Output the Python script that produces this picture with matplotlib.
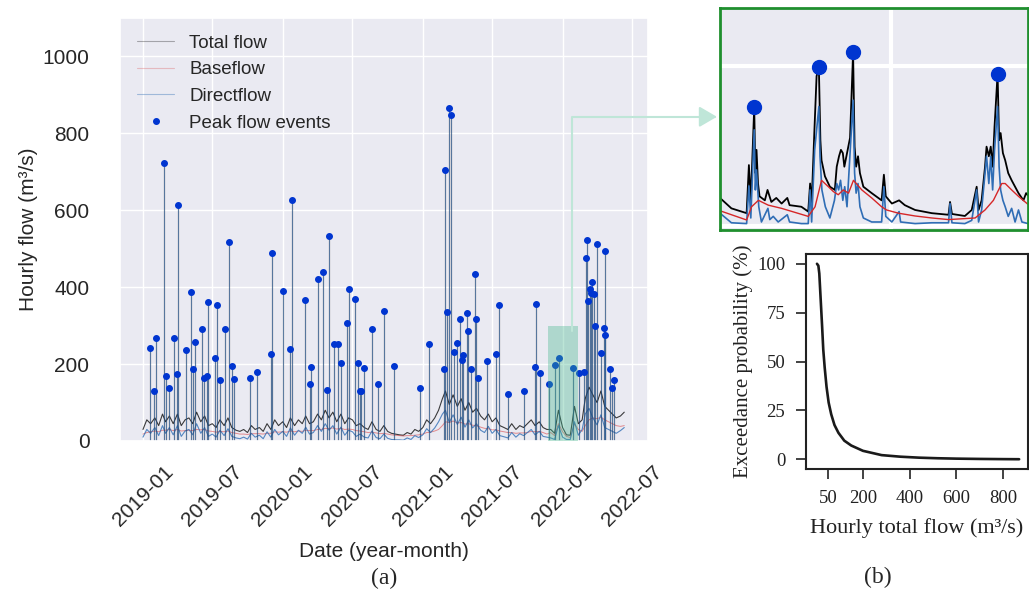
import pandas as pd
import matplotlib
matplotlib.use("Agg")
from matplotlib import pyplot as plt
import matplotlib.dates as mdates
from matplotlib.patches import Rectangle
from matplotlib.lines import Line2D
import seaborn as sns

# ---- panel (a): peak flow events ----
peak_dates = ["2019-01-20", "2019-01-30", "2019-02-05", "2019-02-24", "2019-03-02",
              "2019-03-10", "2019-03-22", "2019-03-30", "2019-04-03", "2019-04-23",
              "2019-05-06", "2019-05-12", "2019-05-16", "2019-06-05", "2019-06-09",
              "2019-06-18", "2019-06-20", "2019-07-08", "2019-07-14", "2019-07-21",
              "2019-08-04", "2019-08-14", "2019-08-22", "2019-08-28", "2019-10-07",
              "2019-10-26", "2019-12-01", "2019-12-05", "2020-01-02", "2020-01-19",
              "2020-01-26", "2020-02-27", "2020-03-11", "2020-03-14", "2020-04-02",
              "2020-04-14", "2020-04-26", "2020-05-02", "2020-05-15", "2020-05-24",
              "2020-06-02", "2020-06-17", "2020-06-22", "2020-07-07", "2020-07-15",
              "2020-07-20", "2020-07-24", "2020-07-31", "2020-08-21", "2020-09-06",
              "2020-09-22", "2020-10-17", "2020-12-25", "2021-01-16", "2021-02-26",
              "2021-03-01", "2021-03-05", "2021-03-11", "2021-03-16", "2021-03-23",
              "2021-03-31", "2021-04-08", "2021-04-13", "2021-04-16", "2021-04-27",
              "2021-04-30", "2021-05-08", "2021-05-16", "2021-05-19", "2021-05-25",
              "2021-06-18", "2021-07-12", "2021-07-19", "2021-08-11", "2021-09-23",
              "2021-10-21", "2021-10-23", "2021-11-03", "2021-11-26", "2021-12-13",
              "2021-12-22", "2022-01-29", "2022-02-13", "2022-02-27", "2022-03-03",
              "2022-03-05", "2022-03-08", "2022-03-13", "2022-03-17", "2022-03-19",
              "2022-03-24", "2022-03-26", "2022-04-01", "2022-04-10", "2022-04-19",
              "2022-04-21", "2022-04-23", "2022-05-06", "2022-05-11", "2022-05-16"]
peak_flow = [242, 131, 267, 723, 168, 137, 268, 174, 614, 236,
             388, 188, 257, 290, 164, 170, 361, 216, 353, 158,
             292, 518, 194, 161, 165, 179, 227, 490, 391, 238,
             628, 366, 149, 193, 422, 440, 132, 532, 252, 252,
             202, 307, 395, 370, 202, 131, 131, 190, 292, 148,
             337, 195, 138, 251, 187, 706, 336, 867, 848, 231,
             254, 318, 211, 223, 333, 287, 186, 434, 318, 164,
             207, 226, 354, 123, 130, 192, 355, 177, 148, 198,
             217, 190, 178, 179, 476, 523, 364, 396, 386, 414,
             382, 300, 513, 229, 294, 494, 276, 186, 139, 158]

# background flow, read on the 1st, 11th and 21st of each month
bg_total = [30, 55, 45, 60, 40, 70, 50, 65, 45, 70, 40, 55, 60, 45, 75, 50, 65, 40,
            45, 35, 55, 40, 60, 35, 28, 25, 30, 22, 40, 30, 35, 25, 45, 30, 55, 40,
            50, 35, 60, 40, 55, 45, 65, 45, 50, 70, 55, 80, 60, 75, 50, 70, 45, 60,
            55, 40, 45, 35, 30, 50, 30, 25, 40, 25, 20, 18, 16, 15, 22, 18, 30, 25,
            35, 55, 45, 60, 80, 110, 130, 95, 120, 90, 110, 80, 100, 75, 85, 65, 55, 70,
            50, 60, 40, 35, 30, 45, 30, 40, 35, 45, 55, 40, 50, 35, 30, 30, 20, 80,
            35, 16, 15, 90, 45, 55, 110, 140, 120, 100, 130, 90, 80, 70, 60, 65, 75]
bg_base = [18, 22, 24, 26, 24, 28, 28, 30, 27, 30, 26, 27, 28, 27, 30, 29, 30, 26,
           25, 23, 25, 24, 26, 22, 20, 18, 18, 17, 19, 19, 19, 18, 20, 20, 24, 23,
           24, 23, 26, 24, 26, 25, 28, 27, 27, 30, 30, 33, 32, 34, 31, 33, 30, 31,
           30, 27, 26, 24, 22, 23, 21, 19, 20, 18, 16, 15, 14, 13, 14, 14, 15, 16,
           18, 22, 23, 26, 30, 40, 50, 48, 52, 47, 48, 44, 45, 41, 40, 36, 33, 32,
           29, 29, 26, 24, 22, 22, 20, 21, 21, 22, 25, 24, 25, 22, 18, 22, 14, 45,
           24, 12, 9, 45, 30, 25, 40, 55, 60, 58, 62, 55, 50, 45, 40, 38, 40]
bg_direct = [10, 30, 20, 35, 14, 40, 20, 35, 16, 40, 12, 26, 30, 16, 45, 20, 35, 12,
             18, 10, 28, 14, 32, 12, 8, 6, 10, 5, 20, 10, 15, 6, 24, 10, 30, 16,
             25, 12, 34, 15, 28, 20, 36, 18, 22, 40, 25, 45, 28, 40, 18, 36, 15, 28,
             24, 12, 18, 10, 8, 26, 9, 6, 18, 7, 4, 3, 3, 2, 8, 4, 14, 9,
             16, 32, 22, 34, 50, 70, 80, 48, 68, 43, 62, 36, 55, 34, 45, 28, 22, 38,
             20, 30, 14, 11, 8, 22, 10, 19, 14, 22, 30, 16, 25, 12, 10, 8, 4, 40,
             10, 4, 4, 50, 15, 30, 70, 85, 60, 42, 68, 35, 30, 25, 20, 27, 35]

# highlighted window (green box) and zoomed view
box_start, box_end, box_top = "2021-11-24", "2022-02-10", 300
zoom_start, zoom_end = "2021-11-17", "2022-02-06"
zoom_total_day = [0, 3, 7, 7.6, 8.1, 9, 9.3, 9.6, 10, 10.4,
                  11.8, 12.5, 13.5, 14.8, 16.2, 17.7, 18.3, 21.4, 23.2, 23.7,
                  24.1, 24.8, 25.4, 26, 26.4, 26.7, 27.6, 28.9, 30.2, 30.7,
                  31.3, 31.8, 32.3, 32.7, 34.2, 35, 35.4, 35.8, 36.3, 36.8,
                  37.7, 39.9, 42.5, 43.1, 43.6, 45.2, 47.1, 48.6, 51.3, 55.7,
                  60.1, 60.5, 61, 64.4, 66.2, 67.5, 68, 68.8, 69.7, 70.1,
                  70.7, 71.2, 71.7, 72.2, 73, 73.4, 73.8, 74.4, 75, 75.8,
                  76.7, 77.6, 78.5, 79.8, 80.5, 81]
zoom_total = [35, 22, 16, 76, 32, 148, 66, 95, 53, 37,
              32, 45, 30, 35, 28, 35, 26, 24, 18, 53,
              28, 116, 187, 198, 107, 82, 62, 49, 45, 74,
              87, 95, 91, 74, 110, 217, 99, 74, 87, 66,
              49, 41, 32, 64, 37, 28, 32, 26, 20, 16,
              14, 30, 15, 12.5, 20, 49, 20, 32, 74, 99,
              87, 99, 74, 124, 190, 107, 116, 91, 82, 66,
              57, 49, 41, 32, 41, 38]
zoom_base_day = [0, 7, 8.3, 10.1, 12.7, 16.2, 23.2, 25, 26.7, 28.5, 29.8, 31.1, 32.4,
                 33.8, 35.1, 37.3, 39.9, 42.5, 43.8, 46.9, 51.3, 55.7, 60.1, 67.1,
                 69.7, 71.9, 74.1, 75, 76.7, 78.5, 81]
zoom_base = [19, 7.5, 24, 32, 26, 22, 12, 24, 57, 49, 43, 39, 45,
             41, 57, 45, 35, 24, 20, 16, 12.5, 10, 8, 10,
             20, 32, 53, 53, 45, 37, 27]
zoom_direct_day = [0, 3, 7, 7.6, 8.1, 9, 9.3, 9.6, 10.2, 10.9,
                   12.6, 13.1, 14, 15.3, 17.7, 18.3, 21.4, 23.2, 23.7, 24.1,
                   24.9, 26, 26.3, 26.8, 27.7, 28.9, 30.1, 30.7, 31.2, 31.7,
                   32.3, 32.8, 33.4, 35, 35.4, 35.8, 36.3, 36.8, 37.7, 39.9,
                   42.5, 43.1, 43.6, 45.2, 47.1, 47.5, 51.3, 55.7, 60.1, 60.5,
                   61, 64.4, 66.2, 67.5, 68, 68.8, 69.7, 70.1, 70.7, 71.2,
                   71.7, 72.2, 73, 73.4, 73.8, 74.4, 75, 75.8, 76.7, 77.6,
                   78.5, 79.4, 81]
zoom_direct = [16, 4, 3, 50, 10, 120, 45, 70, 24, 5,
               22, 8, 12, 5, 14, 5, 3, 3, 45, 5,
               95, 149, 87, 45, 24, 10, 32, 53, 45, 57,
               32, 49, 24, 157, 66, 41, 53, 24, 10, 5,
               5, 49, 12, 5, 18, 5, 3, 4, 4, 28,
               4, 3, 7, 45, 5, 20, 66, 87, 53, 87,
               45, 95, 149, 74, 45, 32, 24, 12, 22, 5,
               20, 5, 3]

# ---- panel (b): flow duration curve ----
exc_flow = [3, 9, 13, 17, 21, 25, 30, 36, 44, 53, 64, 78, 95, 120, 150, 200,
            280, 360, 440, 520, 600, 700, 800, 869]
exc_prob = [100, 99, 95, 86, 77, 68, 56, 47, 37, 29, 23, 17.5, 13.5, 9.5, 7, 4.3,
            2.1, 1.3, 0.8, 0.5, 0.3, 0.15, 0.05, 0]

sns.set_theme(style="darkgrid")
plt.rcParams["font.family"] = ["Liberation Sans", "DejaVu Sans"]
SERIF = ["Liberation Serif", "DejaVu Serif"]

C_TOTAL, C_BASE, C_DIRECT, C_PEAK = "black", "#d62728", "#2f6db5", "#0035d0"
W, H = 1029, 596

fig = plt.figure(figsize=(W / 100, H / 100), dpi=100)

# ---- main time series ----
ax = fig.add_axes([120 / W, 155 / H, 528 / W, 423 / H])
months = pd.date_range("2019-01-01", "2022-06-01", freq="MS")
bg_dates = [m + pd.Timedelta(days=d) for m in months for d in (0, 10, 20)][:len(bg_total)]
pk = pd.to_datetime(peak_dates)

ax.plot(bg_dates, bg_total, color=C_TOTAL, lw=0.8, alpha=0.75)
ax.plot(bg_dates, bg_base, color=C_BASE, lw=0.7, alpha=0.5)
ax.plot(bg_dates, bg_direct, color=C_DIRECT, lw=0.8, alpha=0.8)
ax.vlines(pk, 0, peak_flow, colors=C_TOTAL, lw=0.9, alpha=0.45)
ax.vlines(pk, 0, peak_flow, colors=C_DIRECT, lw=0.6, alpha=0.6)
ax.plot(pk, peak_flow, "o", ms=4, color=C_PEAK, lw=0)

b0, b1 = mdates.date2num(pd.Timestamp(box_start)), mdates.date2num(pd.Timestamp(box_end))
ax.add_patch(Rectangle((b0, 0), b1 - b0, box_top, facecolor="#3fb58a", alpha=0.35,
                       edgecolor="none", zorder=3))

ax.set_xlim(pd.Timestamp("2018-11-02"), pd.Timestamp("2022-08-12"))
ax.set_ylim(0, 1100)
ax.set_yticks(range(0, 1001, 200))
ax.xaxis.set_major_locator(mdates.MonthLocator(bymonth=[1, 7]))
ax.xaxis.set_major_formatter(mdates.DateFormatter("%Y-%m"))
ax.tick_params(axis="y", labelsize=15, pad=16)
ax.tick_params(axis="x", labelsize=15, pad=9, labelrotation=45)
ax.set_ylabel("Hourly flow (m³/s)", fontsize=15, labelpad=3)
ax.set_xlabel("Date (year-month)", fontsize=15, labelpad=9)

handles = [Line2D([], [], color=C_TOTAL, lw=0.8, alpha=0.3),
           Line2D([], [], color=C_BASE, lw=0.8, alpha=0.25),
           Line2D([], [], color=C_DIRECT, lw=0.8, alpha=0.4),
           Line2D([], [], marker="o", ms=4, color=C_PEAK, lw=0)]
ax.legend(handles, ["Total flow", "Baseflow", "Directflow", "Peak flow events"],
          loc="upper left", frameon=False, fontsize=13.5)

# ---- zoomed view of the green box ----
axz = fig.add_axes([720 / W, 366 / H, 308 / W, 222 / H])
z0 = pd.Timestamp(zoom_start)
to_dates = lambda days: z0 + pd.to_timedelta(days, unit="D")
axz.plot(to_dates(zoom_total_day), zoom_total, color=C_TOTAL, lw=1.3)
axz.plot(to_dates(zoom_direct_day), zoom_direct, color=C_DIRECT, lw=1.2)
axz.plot(to_dates(zoom_base_day), zoom_base, color=C_BASE, lw=1.0)
in_zoom = [(d, v) for d, v in zip(pk, peak_flow) if z0 <= d <= pd.Timestamp(zoom_end)]
axz.plot([d for d, _ in in_zoom], [v for _, v in in_zoom], "o", ms=10,
         color=C_PEAK, lw=0)
axz.set_xlim(z0, pd.Timestamp(zoom_end))
axz.set_ylim(-5, 272)
axz.set_xticks([pd.Timestamp("2022-01-01")])
axz.set_yticks([0, 200])
axz.set_xticklabels([])
axz.set_yticklabels([])
axz.tick_params(length=0)
axz.grid(True, color="white", lw=3)
for s in axz.spines.values():
    s.set_visible(True)
    s.set_color("#1f8f2e")
    s.set_linewidth(2)

# connector from the box to the zoomed view
ax.annotate("", xy=(-0.01, 0.51), xycoords=axz,
            xytext=(pd.Timestamp("2022-01-25"), 286), textcoords="data",
            arrowprops=dict(arrowstyle="-|>,head_length=0.6,head_width=0.35",
                            color="#bfe6d8", lw=1.5, mutation_scale=18,
                            connectionstyle="angle,angleA=90,angleB=0,rad=0",
                            shrinkA=0, shrinkB=0), annotation_clip=False)

# ---- panel (b) ----
axb = fig.add_axes([806 / W, 127 / H, 222 / W, 215 / H])
axb.set_facecolor("white")
axb.grid(False)
axb.plot(exc_flow, exc_prob, color="#1a1a1a", lw=1.9)
axb.set_xlim(-44, 907)
axb.set_ylim(-5, 105)
axb.set_xticks([50, 200, 400, 600, 800])
axb.set_yticks([0, 25, 50, 75, 100])
for s in axb.spines.values():
    s.set_visible(True)
    s.set_color("#222222")
    s.set_linewidth(1.5)
axb.tick_params(direction="out", length=7, width=1.2, color="#222222",
                labelsize=13.5, pad=8, labelcolor="#222222",
                bottom=True, left=True)
for lab in axb.get_xticklabels() + axb.get_yticklabels():
    lab.set_family(SERIF)
axb.set_xlabel("Hourly total flow (m³/s)", fontsize=16, family=SERIF,
               labelpad=8, color="#222222")
axb.set_ylabel("Exceedance probability (%)", fontsize=15, family=SERIF,
               labelpad=3, color="#222222")

fig.text(384 / W, 1 - 578 / H, "(a)", ha="center", va="center", fontsize=17,
         family=SERIF)
fig.text(878 / W, 1 - 577 / H, "(b)", ha="center", va="center", fontsize=17,
         family=SERIF)

fig.savefig("out.png", dpi=100)
